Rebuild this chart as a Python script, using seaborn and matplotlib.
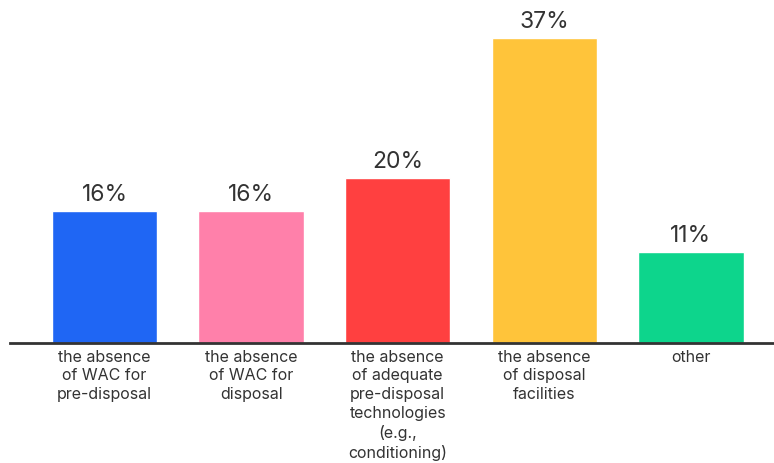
import matplotlib
matplotlib.use("Agg")
import matplotlib.pyplot as plt
import seaborn as sns
import pandas as pd

categories = [
    "the absence\nof WAC for\npre-disposal",
    "the absence\nof WAC for\ndisposal",
    "the absence\nof adequate\npre-disposal\ntechnologies\n(e.g.,\nconditioning)",
    "the absence\nof disposal\nfacilities",
    "other",
]
values = [16, 16, 20, 37, 11]
colors = ["#1F66F4", "#FF80AA", "#FF4040", "#FFC43A", "#0DD58C"]

df = pd.DataFrame({"category": categories, "value": values})

sns.set_style("white")
plt.rcParams["font.family"] = ["Inter", "DejaVu Sans"]

fig = plt.figure(figsize=(7.74, 4.64), dpi=100)
ax = fig.add_axes([10 / 774, 120 / 464, 1 - 10 / 774, 344 / 464])

sns.barplot(data=df, x="category", y="value", hue="category",
            palette=colors, legend=False, width=0.72, saturation=1, ax=ax)

for i, v in enumerate(values):
    ax.text(i, v + 0.7, f"{v}%", ha="center", va="bottom",
            fontsize=16.5, color="#333333")

ax.set_xlim(-0.645, 4.567)
ax.set_ylim(0, 41.7)
ax.set_xlabel("")
ax.set_ylabel("")
ax.set_yticks([])
ax.tick_params(axis="x", length=0, pad=4)
for lbl in ax.get_xticklabels():
    lbl.set_fontsize(11.5)
    lbl.set_color("#333333")
    lbl.set_va("top")
    lbl.set_linespacing(1.32)

for s in ["top", "left", "right"]:
    ax.spines[s].set_visible(False)
ax.spines["bottom"].set_color("#333333")
ax.spines["bottom"].set_linewidth(2)

fig.savefig("out.png", dpi=100)
